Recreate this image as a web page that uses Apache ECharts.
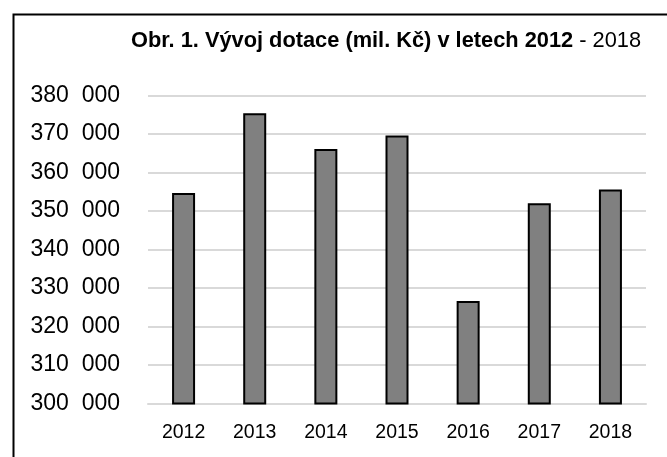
<!DOCTYPE html>
<html><head><meta charset="utf-8">
<script src="https://cdn.jsdelivr.net/npm/echarts@6/dist/echarts.min.js"></script>
<style>html,body{margin:0;padding:0;background:#fff}#c{width:667px;height:457px}</style>
</head><body><div id="c"></div>
<script>
const categories = ['2012','2013','2014','2015','2016','2017','2018'];
const values = [354700, 375400, 366100, 369600, 326600, 352000, 355600];
const yMin = 300000, yMax = 380000, yStep = 10000;
const titleBold = 'Obr. 1. Vývoj dotace (mil. Kč) v letech 2012';
const titleNormal = ' - 2018';
const FONT = '"Liberation Sans", Arial, sans-serif';

const chart = echarts.init(document.getElementById('c'), null, {renderer:'canvas'});
chart.setOption({
  animation: false,
  backgroundColor: '#fff',
  graphic: [{
    type: 'rect', left: 11, top: 12, silent: true,
    shape: {width: 720, height: 520},
    style: {fill: 'none', stroke: '#000', lineWidth: 2}
  }, {
    type: 'text', x: 386, y: 41, silent: true,
    style: {
      text: '{b|' + titleBold + '}{n|' + titleNormal + '}',
      align: 'center', verticalAlign: 'middle',
      rich: {
        b: {fontFamily: FONT, fontWeight: 'bold', fontSize: 21.8, fill: '#000'},
        n: {fontFamily: FONT, fontWeight: 'normal', fontSize: 21.8, fill: '#000'}
      }
    }
  }],
  grid: {left: 148, right: 21, top: 95.5, bottom: 53.5},
  xAxis: {
    type: 'category', data: categories,
    axisLine: {show: true, lineStyle: {color: '#d9d9d9', width: 2}},
    axisTick: {show: false},
    axisLabel: {fontFamily: FONT, fontSize: 19.5, color: '#000', margin: 19, interval: 0}
  },
  yAxis: {
    type: 'value', min: yMin, max: yMax, interval: yStep,
    axisLine: {show: false}, axisTick: {show: false},
    splitLine: {lineStyle: {color: '#d9d9d9', width: 2}},
    axisLabel: {
      fontFamily: FONT, fontSize: 23, color: '#000', margin: 28,
      formatter: v => Math.floor(v/1000) + '\u00a0\u00a0' + String(v%1000).padStart(3,'0')
    }
  },
  series: [{
    type: 'bar', data: values, barWidth: 23,
    itemStyle: {color: '#808080', borderColor: '#000', borderWidth: 2}
  }]
});
</script></body></html>
